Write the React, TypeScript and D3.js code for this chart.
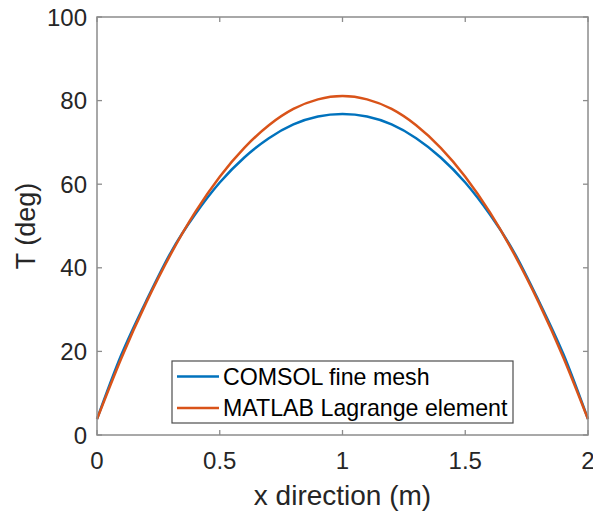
import React from "react";
import * as d3 from "d3";

const xValues = [0, 0.1, 0.2, 0.3, 0.4, 0.5, 0.6, 0.7, 0.8, 0.9, 1.0, 1.1, 1.2, 1.3, 1.4, 1.5, 1.6, 1.7, 1.8, 1.9, 2.0];
const comsolValues = [3.8, 19.3, 32.0, 43.6, 52.8, 60.4, 66.4, 71.0, 74.3, 76.2, 76.8, 76.2, 74.3, 71.0, 66.4, 60.4, 52.8, 43.6, 32.0, 19.3, 3.8];
const matlabValues = [3.8, 18.5, 31.6, 43.2, 53.3, 61.8, 68.7, 74.1, 78.0, 80.3, 81.1, 80.3, 78.0, 74.1, 68.7, 61.8, 53.3, 43.2, 31.6, 18.5, 3.8];
const xTicks = [0, 0.5, 1, 1.5, 2];
const yTicks = [0, 20, 40, 60, 80, 100];
const seriesNames = ["COMSOL fine mesh", "MATLAB Lagrange element"];

const W = 593, H = 516;
const L = 97, R = 588, T = 17, B = 435;
const FONT = "'Liberation Sans', Arial, Helvetica, sans-serif";
const BLUE = "#0072BD";
const ORANGE = "#D95319";
const AXIS = "#8c8c8c";
const TEXT = "#262626";

export default function App() {
  const x = d3.scaleLinear().domain([0, 2]).range([L, R]);
  const y = d3.scaleLinear().domain([0, 100]).range([B, T]);
  const line = d3
    .line<number>()
    .x((_, i) => x(xValues[i]))
    .y((d) => y(d))
    .curve(d3.curveNatural);
  const tickLen = 5;
  return (
    <svg width={W} height={H} style={{ position: "absolute", left: 0, top: 0 }} fontFamily={FONT}>
      <rect x={0} y={0} width={W} height={H} fill="#fff" />
      <path d={line(comsolValues) || ""} fill="none" stroke={BLUE} strokeWidth={2.5} />
      <path d={line(matlabValues) || ""} fill="none" stroke={ORANGE} strokeWidth={2.5} />
      <rect x={L} y={T} width={R - L} height={B - T} fill="none" stroke={AXIS} strokeWidth={1.5} />
      {xTicks.map((t) => (
        <g key={"x" + t}>
          <line x1={x(t)} x2={x(t)} y1={B} y2={B - tickLen} stroke={AXIS} strokeWidth={1.3} />
          <line x1={x(t)} x2={x(t)} y1={T} y2={T + tickLen} stroke={AXIS} strokeWidth={1.3} />
          <text x={x(t)} y={469} textAnchor="middle" fontSize={24} fill={TEXT}>
            {String(t)}
          </text>
        </g>
      ))}
      {yTicks.map((t) => (
        <g key={"y" + t}>
          <line x1={L} x2={L + tickLen} y1={y(t)} y2={y(t)} stroke={AXIS} strokeWidth={1.3} />
          <line x1={R} x2={R - tickLen} y1={y(t)} y2={y(t)} stroke={AXIS} strokeWidth={1.3} />
          <text x={87} y={y(t)} dy="0.36em" textAnchor="end" fontSize={24} fill={TEXT}>
            {String(t)}
          </text>
        </g>
      ))}
      <text x={(L + R) / 2} y={505} textAnchor="middle" fontSize={28} fill={TEXT}>
        x direction (m)
      </text>
      <text transform={`translate(35,${(T + B) / 2}) rotate(-90)`} textAnchor="middle" fontSize={27} fill={TEXT}>
        T (deg)
      </text>
      <g>
        <rect x={172} y={361} width={341} height={62} fill="#fff" stroke="#4d4d4d" strokeWidth={1.2} />
        {seriesNames.map((name, i) => {
          const ly = i === 0 ? 376.5 : 408;
          return (
            <g key={name}>
              <line x1={177} x2={219} y1={ly} y2={ly} stroke={i === 0 ? BLUE : ORANGE} strokeWidth={2.5} />
              <text x={223} y={ly} dy="0.36em" fontSize={23.2} fill="#000">
                {name}
              </text>
            </g>
          );
        })}
      </g>
    </svg>
  );
}
